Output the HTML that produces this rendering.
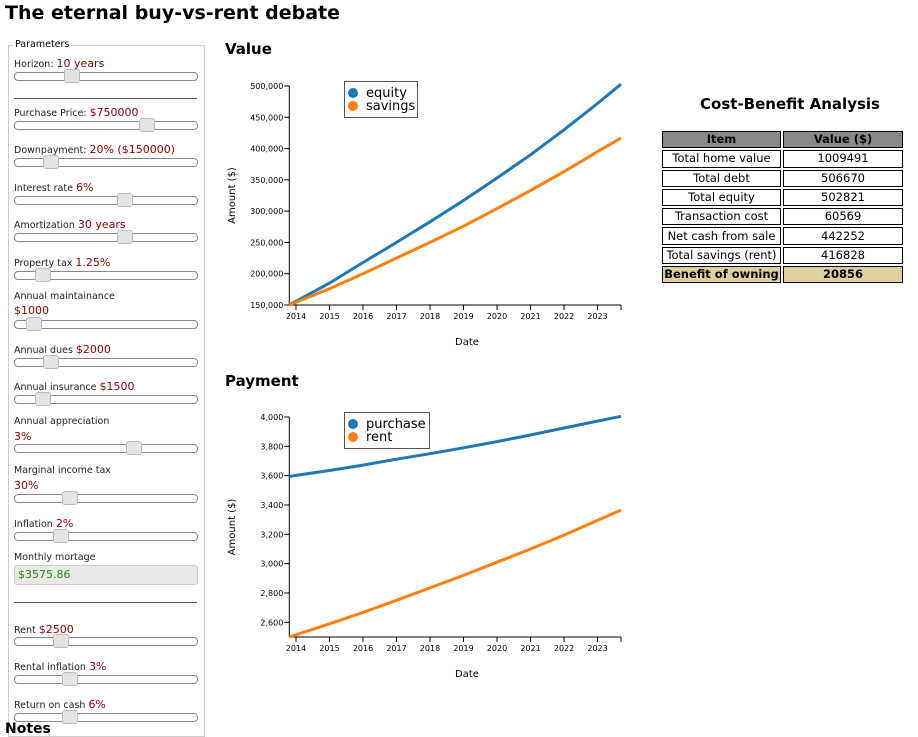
<!DOCTYPE html>
<html><head><meta charset="utf-8">
<style>
body{margin:0;width:918px;height:726px;overflow:hidden;background:#fff;font-family:"DejaVu Sans","Liberation Sans",sans-serif;position:relative}
.abs{position:absolute}
h1{position:absolute;left:5px;top:0;margin:0;font-size:19px;font-weight:bold;line-height:26px}
.lbl{position:absolute;left:14px;font-size:9.5px;color:#222;white-space:nowrap}
.v{color:#8b0000;font-size:11px}
.track{position:absolute;left:14px;width:182px;height:7px;border:1px solid #888;border-radius:4px;background:#fff}
.thumb{position:absolute;width:14px;height:12px;border:1px solid #bbb;border-radius:3px;background:#e4e4e4;margin-left:-8px;top:-4px}
.hr{position:absolute;left:14px;width:183px;height:0;border-top:1.5px solid #555}
table{position:absolute;left:660px;top:129px;border-collapse:separate;border-spacing:2px;font-size:11.5px;table-layout:fixed}
td,th{border:1px solid #000;text-align:center;padding:0;height:15.3px;line-height:15px;white-space:nowrap;overflow:hidden}
th{background:#888;}
</style></head><body>
<h1>The eternal buy-vs-rent debate</h1>
<div class="abs" style="left:8px;top:45px;width:195px;height:690px;border:1px solid #ccc"></div>
<div class="abs" style="left:13px;top:39px;font-size:9.5px;background:#fff;padding:0 2px">Parameters</div>
<div id="params"></div>
<div class="abs" style="left:14px;top:565px;width:179px;height:18px;border:1px solid #ccc;border-radius:3px;background:#ebe9e6;font-size:11px;color:#1a8a1a;line-height:18px;padding-left:3px">$3575.86</div>
<div class="hr" style="top:98px"></div>
<div class="hr" style="top:602px"></div>
<div class="abs" style="left:5px;top:721px;font-weight:bold;font-size:14px">Notes</div>

<div class="abs" style="left:662px;top:95px;width:256px;text-align:center;font-weight:bold;font-size:15px">Cost-Benefit Analysis</div>
<table>
<tr><th style="width:117px">Item</th><th style="width:118px">Value ($)</th></tr>
<tr><td>Total home value</td><td>1009491</td></tr>
<tr><td>Total debt</td><td>506670</td></tr>
<tr><td>Total equity</td><td>502821</td></tr>
<tr><td>Transaction cost</td><td>60569</td></tr>
<tr><td>Net cash from sale</td><td>442252</td></tr>
<tr><td>Total savings (rent)</td><td>416828</td></tr>
<tr style="background:#ddd09e;font-weight:bold"><td>Benefit of owning</td><td>20856</td></tr>
</table>

<svg id="charts" class="abs" style="left:0;top:0" width="918" height="726" font-family="DejaVu Sans, Liberation Sans, sans-serif"></svg>

<script>
// Chart data
const years = [2013.8, 2015, 2016, 2017, 2018, 2019, 2020, 2021, 2022, 2023, 2023.7];
const equity = [150000, 185000, 218000, 250000, 283000, 317000, 353000, 390000, 430000, 472000, 502821];
const savings = [150000, 176000, 200000, 225000, 250000, 276000, 304000, 333000, 363000, 395000, 416828];
const purchase = [3595, 3635, 3672, 3712, 3750, 3790, 3832, 3877, 3925, 3972, 4005];
const rent = [2500, 2590, 2668, 2750, 2835, 2920, 3010, 3100, 3195, 3295, 3365];
const xTicks = [2014, 2015, 2016, 2017, 2018, 2019, 2020, 2021, 2022, 2023];
const valueTicks = [150000, 200000, 250000, 300000, 350000, 400000, 450000, 500000];
const payTicks = [2600, 2800, 3000, 3200, 3400, 3600, 3800, 4000];

const NS = "http://www.w3.org/2000/svg";
const svg = document.getElementById('charts');
function mk(tag, attrs, parent) { const e = document.createElementNS(NS, tag); for (const k in attrs) e.setAttribute(k, attrs[k]); (parent || svg).appendChild(e); return e; }
const xDom = [2013.8, 2023.7], xR = [289.3, 621];
function X(t) { return xR[0] + (t - xDom[0]) / (xDom[1] - xDom[0]) * (xR[1] - xR[0]); }
const fmt = v => v.toLocaleString('en-US');

function chart(name, title, titleY, yDom, yR, yTicks, series) {
  const g = mk('g', {});
  
  
  const Y = v => yR[0] + (v - yDom[0]) / (yDom[1] - yDom[0]) * (yR[1] - yR[0]);
  const t = mk('text', {x: 225, y: titleY, 'font-size': 15, 'font-weight': 'bold'}, g); t.textContent = title;
  
  
  const ya = mk('g', {}, g);
  
  
  mk('line', {x1: xR[0], x2: xR[0], y1: yR[0], y2: yR[1], stroke: '#000'}, ya);
  yTicks.forEach(v => {
    const y = Y(v);
    mk('line', {x1: xR[0] - 5, x2: xR[0], y1: y, y2: y, stroke: '#000'}, ya);
    const tx = mk('text', {x: xR[0] - 6, y: y + 3, 'font-size': 8, 'text-anchor': 'end'}, ya); tx.textContent = fmt(v);
  });
  const yl = mk('text', {transform: `translate(235,${(yR[0]+yR[1])/2}) rotate(-90)`, 'font-size': 10, 'text-anchor': 'middle'}, g);
  yl.textContent = 'Amount ($)';
  
  
  const xa = mk('g', {}, g);
  
  
  mk('line', {x1: xR[0], x2: xR[1], y1: yR[0], y2: yR[0], stroke: '#000'}, xa);
  mk('line', {x1: xR[1], x2: xR[1], y1: yR[0], y2: yR[0] + 5, stroke: '#000'}, xa);
  xTicks.forEach(v => {
    const x = X(v);
    mk('line', {x1: x, x2: x, y1: yR[0], y2: yR[0] + 5, stroke: '#000'}, xa);
    const tx = mk('text', {x: x, y: yR[0] + 14, 'font-size': 8, 'text-anchor': 'middle'}, xa); tx.textContent = v;
  });
  const xl = mk('text', {x: 467, y: yR[0] + 40, 'font-size': 10, 'text-anchor': 'middle'}, g);
  xl.textContent = 'Date';
  
  
  series.forEach(s => {
    const p = mk('path', {d: years.map((t, i) => (i ? 'L' : 'M') + X(t).toFixed(1) + ',' + Y(s.vals[i]).toFixed(1)).join(''), fill: 'none', stroke: s.color, 'stroke-width': 3}, g);
    
    
  });
  const lg = mk('g', {}, g);
  
  
  const lw = series.some(s => s.name === 'purchase') ? 85 : 73;
  mk('rect', {x: 344.5, y: yR[1] - 4.5, width: lw, height: 36, fill: '#fff', stroke: '#555'}, lg);
  series.forEach((s, i) => {
    const e = mk('g', {}, lg);
    
    
    mk('circle', {cx: 353, cy: yR[1] + 7 + i * 13, r: 5, fill: s.color}, e);
    const tx = mk('text', {x: 366, y: yR[1] + 11 + i * 13, 'font-size': 13}, e); tx.textContent = s.name;
  });
}
chart('value-chart', 'Value', 54, [150000, 500000], [305, 86], valueTicks,
  [{name: 'equity', vals: equity, color: '#1f77b4'}, {name: 'savings', vals: savings, color: '#ff7f0e'}]);
chart('payment-chart', 'Payment', 386, [2500, 4000], [637, 417], payTicks,
  [{name: 'purchase', vals: purchase, color: '#1f77b4'}, {name: 'rent', vals: rent, color: '#ff7f0e'}]);

const params = [
  ['horizon', 'Horizon:', '10 years', 57, null, 72, 72],
  ['purchase-price', 'Purchase Price:', '$750000', 106, null, 121, 147],
  ['downpayment', 'Downpayment:', '20% ($150000)', 143, null, 158, 51],
  ['interest-rate', 'Interest rate', '6%', 181, null, 196, 125],
  ['amortization', 'Amortization', '30 years', 218, null, 233, 125],
  ['property-tax', 'Property tax', '1.25%', 256, null, 271, 43],
  ['annual-maintenance', 'Annual maintainance', '$1000', 291, 304, 320, 34],
  ['annual-dues', 'Annual dues', '$2000', 343, null, 358, 51],
  ['annual-insurance', 'Annual insurance', '$1500', 380, null, 395, 43],
  ['annual-appreciation', 'Annual appreciation', '3%', 416, 430, 444, 134],
  ['marginal-income-tax', 'Marginal income tax', '30%', 465, 479, 494, 70],
  ['inflation', 'Inflation', '2%', 517, null, 532, 61],
  ['rent', 'Rent', '$2500', 623, null, 637, 61],
  ['rental-inflation', 'Rental inflation', '3%', 660, null, 675, 70],
  ['return-on-cash', 'Return on cash', '6%', 698, null, 713, 70]
];
const pc = document.getElementById('params');
params.forEach(p => {
  const l = document.createElement('div');
  l.className = 'lbl';
  l.style.top = p[3] + 'px';
  l.innerHTML = p[1] + ' ' + (p[4] === null ? '<span class="v">' + p[2] + '</span>' : '');
  
  
  pc.appendChild(l);
  if (p[4] !== null) {
    const v = document.createElement('div');
    v.className = 'lbl v';
    v.style.top = p[4] + 'px';
    v.textContent = p[2];
    
    
    pc.appendChild(v);
  }
  const t = document.createElement('div');
  t.className = 'track';
  t.style.top = p[5] + 'px';
  
  
  const th = document.createElement('div');
  th.className = 'thumb';
  th.style.left = (p[6] - 15) + 'px';
  
  
  t.appendChild(th);
  pc.appendChild(t);
});
const mm = document.createElement('div');
mm.className = 'lbl';
mm.style.top = '552px';
mm.textContent = 'Monthly mortage';


pc.appendChild(mm);
</script>
</body></html>
